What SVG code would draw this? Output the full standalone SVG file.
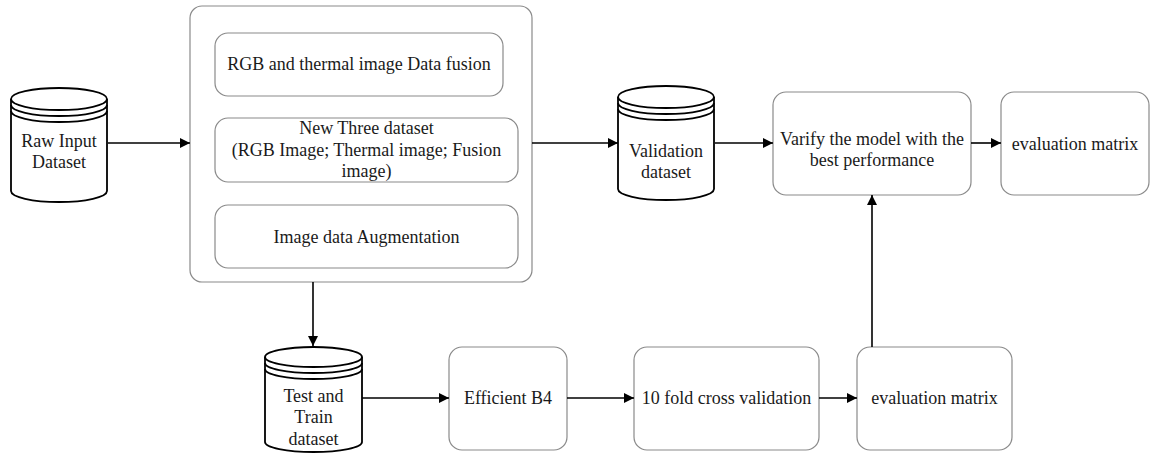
<svg xmlns="http://www.w3.org/2000/svg" width="1150" height="455" viewBox="0 0 1150 455">
<defs>
<marker id="arr" viewBox="0 0 10 10" refX="10" refY="5" markerWidth="10" markerHeight="10" markerUnits="userSpaceOnUse" orient="auto">
<path d="M0,0 L10,5 L0,10 z" fill="#000"/>
</marker>
<style>
.box{fill:#fff;stroke:#8a8a8a;stroke-width:1.2}
.cyl{fill:#fff;stroke:#000;stroke-width:1.8}
.cl{fill:none;stroke:#000;stroke-width:1.8}
.t{font-family:"Liberation Serif","Times New Roman","DejaVu Serif",serif;font-size:18px;fill:#1a1a1a;text-anchor:middle}
.c{fill:none;stroke:#000;stroke-width:1.6;marker-end:url(#arr)}
</style>
</defs>
<rect width="1150" height="455" fill="#fff"/>

<g id="raw-input">
<path class="cyl" d="M11,99 A48,11 0 0 1 107,99 L107,191 A48,11 0 0 1 11,191 Z"/>
<path class="cl" d="M11,99 A48,11 0 0 0 107,99 M11,105 A48,11 0 0 0 107,105 M11,111 A48,11 0 0 0 107,111"/>
<text class="t" x="59" y="147">Raw Input</text>
<text class="t" x="59" y="168">Dataset</text>
</g>

<g id="preprocessing">
<rect class="box" x="190" y="6" width="342" height="276" rx="12"/>
</g>
<g id="fusion">
<rect class="box" x="215" y="33" width="288" height="63" rx="13"/>
<text class="t" x="359" y="70">RGB and thermal image Data fusion</text>
</g>
<g id="new-dataset">
<rect class="box" x="215" y="118" width="303" height="64" rx="13"/>
<text class="t" x="366.5" y="134">New Three dataset</text>
<text class="t" x="366.5" y="156">(RGB Image; Thermal image; Fusion</text>
<text class="t" x="366.5" y="177">image)</text>
</g>
<g id="augmentation">
<rect class="box" x="215" y="205" width="303" height="63" rx="13"/>
<text class="t" x="366.5" y="243">Image data Augmentation</text>
</g>

<g id="validation-dataset">
<path class="cyl" d="M618,97 A48,11 0 0 1 714,97 L714,189 A48,11 0 0 1 618,189 Z"/>
<path class="cl" d="M618,97 A48,11 0 0 0 714,97 M618,103 A48,11 0 0 0 714,103 M618,109 A48,11 0 0 0 714,109"/>
<text class="t" x="666" y="157">Validation</text>
<text class="t" x="666" y="178">dataset</text>
</g>

<g id="verify">
<rect class="box" x="773" y="92" width="198" height="103" rx="13"/>
<text class="t" x="872" y="145">Varify the model with the</text>
<text class="t" x="872" y="166">best performance</text>
</g>

<g id="eval-top">
<rect class="box" x="1001" y="92" width="148" height="103" rx="13"/>
<text class="t" x="1075" y="150">evaluation matrix</text>
</g>

<g id="test-train-dataset">
<path class="cyl" d="M265,357 A48.5,10 0 0 1 362,357 L362,442 A48.5,10 0 0 1 265,442 Z"/>
<path class="cl" d="M265,357 A48.5,10 0 0 0 362,357 M265,363 A48.5,10 0 0 0 362,363 M265,369 A48.5,10 0 0 0 362,369"/>
<text class="t" x="313.5" y="402">Test and</text>
<text class="t" x="313.5" y="423">Train</text>
<text class="t" x="313.5" y="445">dataset</text>
</g>

<g id="efficient-b4">
<rect class="box" x="449" y="347" width="118" height="103" rx="13"/>
<text class="t" x="508" y="404">Efficient B4</text>
</g>

<g id="cross-validation">
<rect class="box" x="634" y="347" width="185" height="103" rx="13"/>
<text class="t" x="726.5" y="404">10 fold cross validation</text>
</g>

<g id="eval-bottom">
<rect class="box" x="857" y="347" width="155" height="103" rx="13"/>
<text class="t" x="934.5" y="404">evaluation matrix</text>
</g>

<g id="connectors">
<path class="c" d="M108,143 L190,143"/>
<path class="c" d="M532,143 L618,143"/>
<path class="c" d="M715,143 L773,143"/>
<path class="c" d="M971,143 L1001,143"/>
<path class="c" d="M313,282 L313,346"/>
<path class="c" d="M362,398 L449,398"/>
<path class="c" d="M567,398 L634,398"/>
<path class="c" d="M819,398 L857,398"/>
<path class="c" d="M872,347 L872,195"/>
</g>
</svg>
